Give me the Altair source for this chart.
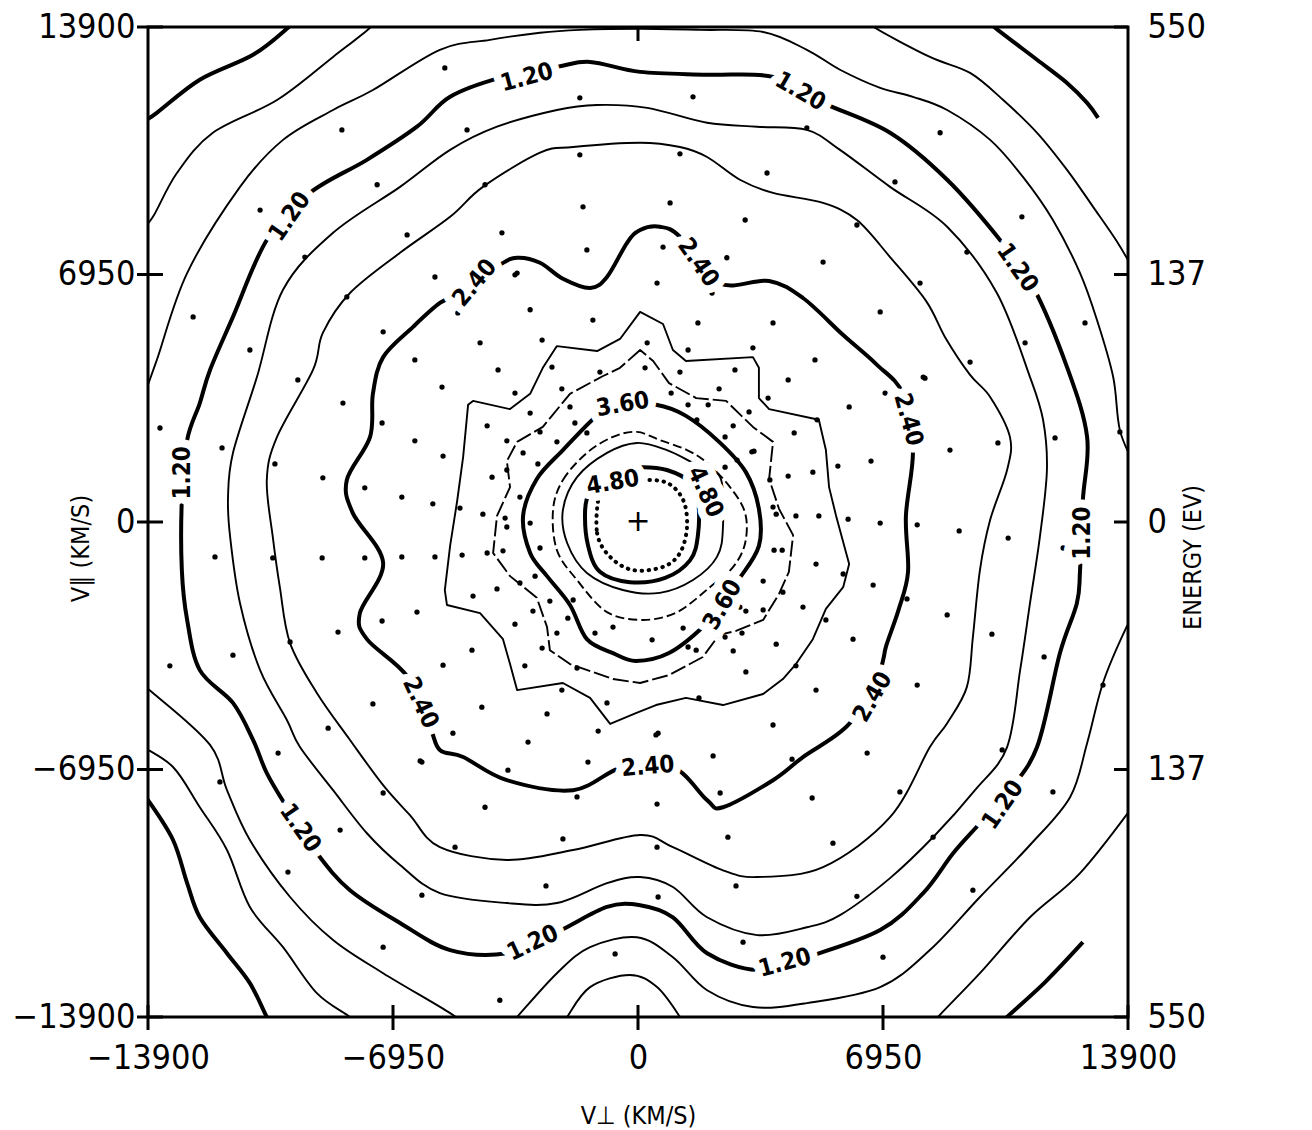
import altair as alt
import pandas as pd

# ---------------- axis values ----------------
TICKS = [-13900, -6950, 0, 6950, 13900]
ENERGY_LABELS = ["550", "137", "0", "137", "550"]
TOP_TICK = [0]
CENTER_X = [0.0]
CENTER_Y = [0.0]

# ---------------- contour pieces (thousands of km/s) ----------------
# level 0.0 (corner pieces)
L00_TL_X = [-9.75, -9.93, -10.92, -12.43, -13.65, -14.1]
L00_TL_Y = [14.1, 13.88, 13.12, 12.42, 11.49, 11.2]
L00_TR_X = [9.95, 10.13, 11.32, 12.17, 12.74, 13.05]
L00_TR_Y = [14.1, 13.88, 12.98, 12.33, 11.77, 11.35]
L00_BL_X = [-14.1, -13.90, -13.19, -12.79, -12.43, -11.66, -11.01, -10.53, -10.4]
L00_BL_Y = [-7.6, -7.81, -8.93, -10.14, -11.10, -12.11, -12.95, -13.90, -14.1]
L00_BR_X = [12.62, 11.55, 10.47, 10.3]
L00_BR_Y = [-11.80, -12.92, -13.90, -14.1]

# level 0.4
L04_TL_X = [-7.5, -7.60, -8.65, -10.24, -12.06, -13.08, -13.76, -14.1]
L04_TL_Y = [14.1, 13.88, 13.06, 11.85, 10.93, 9.80, 8.57, 8.2]
L04_TR_X = [6.6, 6.72, 8.28, 9.42, 10.36, 11.32, 12.17, 12.91, 13.59, 14.1]
L04_TR_Y = [14.1, 13.88, 13.06, 12.61, 11.85, 10.93, 9.89, 8.85, 7.87, 7.0]
L04_BR_X = [14.1, 12.54, 11.12, 9.70, 8.51, 8.4]
L04_BR_Y = [-7.9, -9.86, -11.10, -12.67, -13.90, -14.1]
L04_BC_X = [-2.1, -2.01, -1.36, -0.23, 0.54, 1.19, 1.25]
L04_BC_Y = [-14.1, -13.90, -13.06, -12.72, -13.06, -13.90, -14.1]
L04_BL_X = [-14.1, -13.19, -12.43, -11.66, -11.01, -10.07, -9.11, -8.17, -8.0]
L04_BL_Y = [-6.3, -6.88, -8.01, -9.21, -10.81, -11.94, -13.23, -13.90, -14.1]

# level 0.8
L08_T_X = [-14.1, -13.65, -12.79, -11.29, -10.07, -8.65, -7.52, -5.62, -4.20, -2.78, -1.65, 0.06,
           1.76, 3.55, 4.79, 5.73, 6.87, 7.80, 8.77, 9.99, 10.92, 11.77, 12.54, 13.02, 13.48, 13.67, 14.1]
L08_T_Y = [3.3, 4.55, 6.99, 9.41, 10.73, 11.57, 12.13, 13.26, 13.54, 13.74, 13.82, 13.85,
           13.82, 13.76, 13.26, 12.70, 12.19, 11.94, 11.57, 10.73, 9.69, 8.48, 6.99, 5.67, 4.07, 2.58, 1.6]
L08_B_X = [14.1, 13.82, 13.19, 12.74, 12.26, 11.12, 9.70, 8.28, 6.87, 4.79, 3.26, 1.96, 0.99,
           -0.03, -1.36, -2.30, -3.43, -3.6]
L08_B_Y = [-2.6, -3.03, -4.52, -6.21, -7.72, -9.07, -10.53, -12.02, -13.06, -13.51, -13.62, -13.15,
           -12.22, -11.66, -11.94, -12.67, -13.90, -14.1]
L08_BL_X = [-14.1, -13.76, -12.14, -11.66, -11.01, -9.87, -8.65, -7.23, -5.33, -5.0]
L08_BL_Y = [-4.6, -4.80, -6.26, -7.53, -8.93, -10.53, -11.74, -12.67, -13.79, -14.1]

# level 1.2 (closed)
L12_X = [-5.33, -3.92, -2.30, -1.36, 0.06, 1.96, 3.83, 5.25, 7.15, 8.77, 10.27, 11.21, 12.17, 12.74,
         12.62, 12.54, 12.45, 11.97, 11.32, 10.47, 9.70, 8.94, 8.09, 6.87, 4.79, 3.38, 1.96, 0.99,
         0.06, -0.88, -2.30, -3.72, -5.33, -6.75, -8.17, -9.11, -9.96, -10.53, -10.92, -11.49,
         -12.43, -12.79, -12.94, -12.94, -12.79, -12.43, -12.14, -11.49, -10.53, -9.31, -7.69, -6.27]
L12_Y = [11.94, 12.47, 12.78, 12.92, 12.64, 12.56, 12.50, 11.77, 10.93, 9.61, 7.92, 6.60, 4.35, 2.39,
         0.62, -1.35, -2.28, -3.68, -6.32, -7.61, -8.46, -9.30, -10.42, -11.46, -12.22, -12.58,
         -12.11, -11.10, -10.76, -10.81, -11.52, -12.11, -12.02, -11.26, -10.34, -9.30, -8.01,
         -7.05, -6.12, -5.08, -4.16, -2.75, -1.35, 0.62, 2.30, 3.34, 4.27, 5.76, 7.92, 9.24, 10.17, 11.10]

# level 1.6 (closed)
L16_X = [-5.33, -4.00, -2.30, -1.16, 0.26, 1.96, 3.38, 4.79, 5.73, 7.15, 8.77, 10.18, 11.12, 11.49,
         11.60, 11.40, 11.12, 10.84, 10.47, 9.56, 8.43, 7.15, 5.73, 4.79, 3.38, 1.96, 0.99, 0.06,
         -0.88, -2.30, -3.72, -5.62, -6.75, -7.69, -8.65, -9.59, -9.96, -10.72, -11.29, -11.57,
         -11.63, -11.49, -10.81, -10.07, -8.65, -6.75]
L16_Y = [10.45, 11.10, 11.57, 11.71, 11.63, 11.21, 11.10, 11.01, 10.45, 9.41, 8.29, 6.43, 4.07, 2.87,
         1.46, -0.42, -2.28, -4.16, -6.32, -7.53, -8.79, -10.00, -11.04, -11.38, -11.60, -11.10,
         -10.25, -9.97, -10.14, -10.70, -10.70, -10.42, -9.63, -8.74, -7.53, -6.32, -5.56, -4.16,
         -2.28, -0.42, 0.70, 1.94, 4.07, 6.52, 8.12, 9.41]

# level 2.0 (closed)
L20_X = [-5.33, -4.40, -2.78, -1.84, 0.06, 1.19, 1.96, 2.89, 3.83, 5.25, 6.21, 7.15, 8.17, 8.74,
         9.42, 9.99, 10.55, 10.47, 9.99, 9.70, 9.50, 9.33, 8.77, 8.28, 7.15, 5.25, 3.38, 2.41, 0.99,
         0.06, -1.84, -3.72, -5.62, -6.47, -7.23, -8.17, -9.11, -9.87, -10.16, -10.36, -10.53,
         -10.24, -9.22, -8.94, -8.17, -6.75]
L20_Y = [8.57, 9.41, 10.37, 10.53, 10.65, 10.53, 10.25, 9.61, 9.24, 8.96, 8.48, 7.44, 6.21, 5.14,
         4.13, 3.51, 2.39, 1.46, 0.06, -1.35, -3.23, -4.63, -5.65, -6.32, -8.29, -9.69, -9.97,
         -9.78, -9.13, -8.79, -9.21, -9.49, -9.13, -8.23, -7.39, -6.12, -4.80, -3.40, -1.83,
         -0.42, 1.18, 2.39, 4.27, 5.31, 6.43, 7.56]

# level 2.4 (closed)
L24_X = [-5.62, -5.05, -3.92, -3.43, -2.78, -2.13, -1.36, -0.88, -0.31, 0.06, 0.62, 1.19, 2.30,
         3.72, 4.68, 5.82, 6.75, 7.52, 7.80, 7.60, 7.66, 7.40, 7.04, 6.84, 5.99, 4.68, 3.83, 2.41,
         1.96, 0.99, -0.43, -1.84, -3.72, -4.96, -5.62, -5.90, -6.55, -7.69, -7.89, -7.23, -8.09,
         -8.26, -7.60, -7.52, -7.23, -6.38]
L24_Y = [6.15, 6.43, 7.22, 7.42, 7.28, 6.83, 6.57, 6.88, 7.84, 8.20, 8.29, 8.01, 6.71, 6.77, 6.29,
         5.25, 4.44, 3.60, 2.02, 0.17, -1.40, -2.44, -3.48, -4.21, -5.67, -6.60, -7.25, -8.01,
         -7.81, -6.88, -6.88, -7.53, -7.25, -6.60, -6.40, -5.76, -4.33, -3.29, -2.56, -1.15, 0.25,
         1.18, 2.39, 3.60, 4.63, 5.48]

# level 2.8 (closed, jagged)
L28_X = [-4.68, -3.63, -3.06, -2.70, -2.30, -1.16, -0.51, 0.06, 0.71, 0.99, 1.36, 3.26, 3.43, 3.43,
         3.72, 5.13, 5.33, 5.42, 5.62, 5.99, 5.82, 5.33, 4.96, 4.48, 4.11, 3.55, 2.41, 1.36, 0.51,
         -0.06, -0.79, -1.36, -2.13, -3.43, -3.63, -3.83, -4.48, -5.42, -5.48, -5.33, -5.13, -4.96, -4.82]
L28_Y = [3.40, 3.17, 3.60, 4.33, 4.94, 4.80, 5.14, 5.90, 5.56, 4.83, 4.52, 4.63, 4.33, 3.48, 3.17,
         2.87, 2.02, 0.98, 0.17, -1.18, -1.83, -2.44, -3.29, -3.99, -4.41, -4.83, -5.14, -4.94,
         -5.14, -5.37, -5.67, -4.94, -4.52, -4.72, -3.99, -3.29, -2.56, -2.33, -1.91, -0.67, 0.59, 1.83, 3.29]

# level 3.2 (closed, jagged)
L32_X = [0.06, -0.51, -0.99, -1.93, -2.70, -3.43, -3.72, -3.63, -4.00, -4.11, -3.63, -2.87, -2.58,
         -2.50, -1.93, -0.71, 0.06, 0.88, 1.84, 2.30, 2.78, 3.55, 4.00, 4.28, 4.40, 4.00, 3.72, 3.83,
         3.26, 2.50, 1.65, 0.88, 0.43]
L32_Y = [4.83, 4.33, 4.10, 3.60, 2.67, 2.25, 1.71, 0.98, 0.17, -0.87, -1.52, -2.13, -2.95, -3.60,
         -3.99, -4.41, -4.52, -4.30, -3.79, -3.17, -3.06, -2.75, -2.02, -1.40, -0.37, 0.37, 1.21,
         2.25, 2.67, 3.40, 3.48, 3.90, 4.52]

# level 3.6 (closed)
L36_X = [-0.43, 0.51, 1.36, 2.30, 3.06, 3.43, 3.43, 2.87, 2.33, 1.84, 0.88, -0.06, -0.71, -1.45,
         -1.93, -2.58, -3.06, -3.26, -2.87, -2.13, -1.08]
L36_Y = [3.29, 3.29, 2.98, 2.25, 1.40, 0.37, -0.67, -1.60, -2.33, -2.95, -3.68, -3.90, -3.68, -3.29,
         -2.33, -1.52, -0.87, 0.17, 1.21, 2.02, 3.06]

# level 4.0
L40_X = [-2.41, -2.13, -1.45, -0.71, -0.03, 0.62, 1.39, 1.96, 2.61, 3.04, 3.04, 2.70, 2.04, 1.11,
         0.14, -0.88, -1.73, -2.30]
L40_Y = [0.34, 1.18, 1.94, 2.39, 2.53, 2.30, 2.02, 1.66, 0.98, 0.25, -0.59, -1.26, -1.83, -2.53,
         -2.75, -2.53, -1.63, -0.79]

# level 4.4
L44_X = [-2.13, -1.73, -0.88, -0.03, 0.82, 1.56, 2.33, 2.41, 2.24, 1.56, 0.62, -0.43, -1.45, -2.01]
L44_Y = [0.34, 1.26, 1.94, 2.22, 2.02, 1.66, 1.26, -0.14, -0.98, -1.63, -1.99, -1.91, -1.43, -0.59]

# level 4.8
L48_X = [-1.50, -1.36, -1.08, -0.51, 0.14, 0.82, 1.48, 1.70, 1.70, 1.48, 0.77, -0.23, -1.08, -1.42]
L48_Y = [0.34, 0.90, 1.24, 1.46, 1.54, 1.46, 1.12, 0.62, -0.37, -1.07, -1.57, -1.69, -1.40, -0.65]

# level 5.2 (dotted)
L52_X = [-1.08, -1.16, -0.79, -0.14, 0.71, 1.19, 1.39, 1.28, 0.82, 0.06, -0.65]
L52_Y = [0.81, -0.31, -0.98, -1.35, -1.26, -0.87, -0.14, 0.62, 1.10, 1.18, 1.10]

# ---------------- contour labels ----------------
LAB_TEXT = ["1.20"] * 10 + ["2.40"] * 6 + ["3.60"] * 2 + ["4.80"] * 2
LAB_X = [-3.15, 4.60, 10.75, 12.62, 10.36, 4.17, -2.98, -9.59, -12.91, -9.87,
         -4.62, 1.70, 7.66, 6.67, 0.28, -6.18, -0.43, 2.41, -0.71, 1.90]
LAB_Y = [12.47, 12.08, 7.13, -0.31, -7.95, -12.39, -11.83, -8.60, 1.38, 8.57,
         6.71, 7.28, 2.87, -4.92, -6.88, -5.08, 3.29, -2.33, 1.10, 0.84]
LAB_ANGLE = [-15, 30, 55, -90, -55, -15, -25, 55, -90, -55,
             -50, 55, 75, -60, -5, 65, -10, -60, -10, 65]

# ---------------- measurement points (thousands of km/s) ----------------
DOT_X = [-5.48, -8.40, -7.40, -10.72, -6.55, -9.45, -5.76, -8.26, -12.62, -7.23, -11.01, -6.33,
         -1.65, 1.56, -4.85, 4.79, -1.65, 1.19, 3.66, -4.34, -1.56, 0.91, 3.04, 6.21, -3.86, -1.45,
         0.71, 2.52, 5.25, -3.43, 0.54, 2.10, -5.11, -3.06, -1.28, 1.70, 3.83, 6.87, -4.48, -2.72,
         0.26, 1.42, 3.26, 5.02, -3.97, -2.44, -1.08, 0.20, 1.19, 2.75,
         8.57, 7.29, 10.89, 9.33, 8.00, 12.68, 10.98, 9.42, 8.09,
         -5.56, -8.37, -9.65, -13.56, -11.80, -7.26, -6.33, -5.53, -10.30, -8.94, -7.75, -6.70,
         -5.82, -12.00, -10.36, -8.96, -7.75, -6.70, -5.76, -6.27, -7.26, -8.51, -11.49, -5.53,
         -13.28, -9.87, -7.52, -8.79,
         8.14, 7.01, 11.83, 10.21, 8.85, 13.67, 6.87, 7.92, 9.11, 10.50, 12.06, 7.63, 8.77, 10.04,
         11.52, 7.92, 13.19,
         -10.21, -11.86, -6.13, -7.23, -8.45, -9.93, -6.13, -7.23,
         -3.69, -1.42, 2.13, 4.37, 6.50, -4.34, -1.73, 0.54, 2.33, 4.94, -5.19, -2.13, 0.54, 2.55,
         5.53, -2.61, 0.57, 2.78, 6.21, -0.65, 2.98, 6.95, -3.92,
         10.33, 7.43, 11.77, 8.37, 9.50,
         -3.49, -3.49, -1.93, -2.16, -3.06, -4.28, -3.72, -2.30, -3.26, -2.84, -4.14, -4.40, -3.77,
         -4.99, -4.28, -2.78, -3.83, -2.92, -4.00, -4.68, -2.98, -2.50, -2.30, -3.49, -4.71, -1.73,
         -2.72, -3.21, -2.16, -4.43, -0.88, -2.58, -5.25, -3.12, -1.13, -6.18,
         4.26, 3.69, 2.30, 0.94, 5.99, 3.15, 1.99, 2.70, 4.43, 5.67, 6.61, 4.96, 4.26, 3.29, 3.92,
         4.48, 5.13, 5.96, 3.86, 5.05, 5.82, 6.67, 3.55, 4.11, 4.68, 3.06, 5.33, 6.10, 3.92, 2.70,
         1.65, 4.48, 3.06, 1.73, 5.05, 0.51,
         5.08, 3.83, 0.57, -5.05, -0.99, -2.78, -1.79, -1.45, 0.06, 1.42, 1.67, 2.47, 2.81, 2.47,
         3.23, 3.74, 3.83, 4.09, 3.55, 2.89, 2.95, 2.47, 1.28, 1.42, 0.40, -0.71, -1.22, -1.99,
         -1.84, -3.35, -3.72, -3.06, -3.35, -3.72]
DOT_Y = [12.75, 11.01, 9.47, 8.76, 8.06, 7.44, 6.88, 6.32, 5.76, 5.34, 4.83, 4.55,
         11.91, 11.94, 11.01, 11.07, 10.31, 10.34, 9.80, 9.47, 8.85, 8.96, 8.48, 8.34, 8.12, 7.64,
         7.72, 7.42, 7.30, 6.99, 6.71, 6.43, 5.87, 5.96, 5.67, 5.59, 5.59, 5.90, 5.03, 5.11, 5.03,
         4.83, 4.89, 4.55, 4.27, 4.35, 4.21, 4.33, 4.21, 4.27,
         10.93, 9.55, 8.57, 7.58, 6.71, 5.59, 5.03, 4.49, 4.07,
         3.79, 3.34, 3.99, 2.64, 2.08, 2.78, 2.28, 1.85, 1.63, 1.24, 0.96, 0.70, 0.51, -0.98, -1.01,
         -1.01, -1.01, -0.98, -0.98, -2.53, -2.78, -3.09, -3.74, -4.02, -4.04, -3.37, -5.11, -5.79,
         4.04, 3.62, 2.36, 2.22, 2.02, 2.53, -0.03, -0.08, -0.25, -0.45, -0.73, -2.16, -2.61, -3.15,
         -3.79, -4.58, -4.58,
         -6.49, -7.30, -6.74, -7.61, -8.65, -9.83, -10.48, -11.94,
         -6.97, -6.74, -6.57, -6.66, -6.49, -8.01, -7.72, -7.92, -7.61, -7.75, -9.13, -8.90, -9.13,
         -8.85, -9.02, -10.22, -10.53, -10.22, -10.51, -12.13, -11.80, -12.22, -13.43,
         -6.40, -7.58, -7.58, -8.85, -10.34,
         6.94, 3.62, 3.23, 3.74, 3.06, 2.70, 2.28, 2.25, 1.94, 1.63, 1.26, 0.22, 0.11, -0.93, -0.87,
         -0.73, -0.81, -1.52, -1.88, -2.08, -2.50, -2.22, -3.12, -2.87, -3.60, -4.10, -3.54, -4.04,
         -4.72, -5.20, -5.08, -5.39, -5.93, -6.18, -5.87, -6.71,
         3.99, 3.48, 3.74, 3.62, 3.23, 3.09, 3.29, 2.70, 2.50, 1.57, 1.71, 1.40, 1.29, 1.99, 0.22,
         0.17, 0.17, 0.08, -0.79, -1.18, -1.46, -1.77, -1.66, -1.97, -2.39, -2.50, -2.75, -3.29,
         -3.43, -3.62, -3.60, -4.04, -4.21, -4.94, -4.72, -5.98,
         2.87, -5.70, -5.93, 0.39, 3.57, 2.53, 2.78, 2.50, 3.23, 3.29, 2.87, 2.39, 1.74, 1.54, 1.97,
         1.18, 0.42, -0.79, -2.47, -2.39, -3.12, -3.23, -2.98, -3.51, -3.31, -2.95, -3.12, -2.70,
         -2.19, -1.71, -0.14, -0.03, 0.70, 1.46]

# ---------------- build tables ----------------
K = 1000.0
FONT = "DejaVu Sans Condensed, Liberation Sans Narrow, DejaVu Sans, sans-serif"
XS = alt.Scale(domain=[TICKS[0], TICKS[-1]], nice=False, zero=False)
YS = alt.Scale(domain=[TICKS[0], TICKS[-1]], nice=False, zero=False)

X_AXIS = alt.Axis(values=TICKS, format="d", ticks=False, domain=False, grid=False,
                  labelFont=FONT, labelFontSize=34, labelColor="black", labelPadding=24,
                  labelFlush=False, labelOverlap=False,
                  title="V⊥ (KM/S)", titleFont=FONT, titleFontSize=25, titleFontWeight="normal",
                  titleColor="black", titleY=106, titleBaseline="alphabetic")
Y_AXIS = alt.Axis(values=TICKS, format="d", ticks=False, domain=False, grid=False,
                  labelFont=FONT, labelFontSize=34, labelColor="black", labelPadding=13,
                  labelFlush=False, labelOverlap=False,
                  title="V∥ (KM/S)", titleFont=FONT, titleFontSize=25, titleFontWeight="normal",
                  titleColor="black", titleAngle=270, titleX=-68, titleY=521,
                  titleBaseline="middle")


def enc_xy(xf="vx", yf="vy"):
    return dict(x=alt.X(f"{xf}:Q", scale=XS, axis=X_AXIS),
                y=alt.Y(f"{yf}:Q", scale=YS, axis=Y_AXIS))


def piece_df(pieces):
    rows = []
    for pid, (xs, ys) in enumerate(pieces):
        for i, (x, y) in enumerate(zip(xs, ys)):
            rows.append({"piece": pid, "i": i, "vx": x * K, "vy": y * K})
    return pd.DataFrame(rows)


def line_layer(pieces, interp, width, dash=None, cap="butt"):
    props = dict(interpolate=interp, clip=True, color="black", strokeWidth=width,
                 strokeCap=cap, strokeJoin="round")
    if dash is not None:
        props["strokeDash"] = dash
    return alt.Chart(piece_df(pieces)).mark_line(**props).encode(
        detail="piece:N", order="i:Q", **enc_xy())


layers = [
    line_layer([(L00_TL_X, L00_TL_Y), (L00_TR_X, L00_TR_Y), (L00_BL_X, L00_BL_Y),
                (L00_BR_X, L00_BR_Y)], "cardinal", 4),
    line_layer([(L04_TL_X, L04_TL_Y), (L04_TR_X, L04_TR_Y), (L04_BR_X, L04_BR_Y),
                (L04_BC_X, L04_BC_Y), (L04_BL_X, L04_BL_Y),
                (L08_T_X, L08_T_Y), (L08_B_X, L08_B_Y), (L08_BL_X, L08_BL_Y)], "cardinal", 1.9),
    line_layer([(L12_X, L12_Y), (L24_X, L24_Y), (L36_X, L36_Y), (L48_X, L48_Y)],
               "cardinal-closed", 4),
    line_layer([(L16_X, L16_Y), (L20_X, L20_Y), (L44_X, L44_Y)], "cardinal-closed", 1.9),
    line_layer([(L28_X, L28_Y)], "linear-closed", 1.9),
    line_layer([(L32_X, L32_Y)], "linear-closed", 1.9, dash=[16, 4]),
    line_layer([(L40_X, L40_Y)], "cardinal-closed", 1.9, dash=[9, 4]),
    line_layer([(L52_X, L52_Y)], "cardinal-closed", 4, dash=[0.5, 6.5], cap="round"),
]

dots = pd.DataFrame({"vx": [v * K for v in DOT_X], "vy": [v * K for v in DOT_Y]})
layers.append(alt.Chart(dots).mark_circle(size=28, color="black", opacity=1).encode(**enc_xy()))

labels = pd.DataFrame({"vx": [v * K for v in LAB_X], "vy": [v * K for v in LAB_Y],
                       "txt": LAB_TEXT, "ang": [a % 360 for a in LAB_ANGLE]})
lab_common = dict(font=FONT, fontSize=24, fontWeight="bold", align="center", baseline="middle")
layers.append(alt.Chart(labels).mark_text(color="white", stroke="white", strokeWidth=16,
                                          strokeJoin="round", **lab_common).encode(
    text="txt:N", angle=alt.Angle("ang:Q", scale=None), **enc_xy()))
layers.append(alt.Chart(labels).mark_text(color="black", **lab_common).encode(
    text="txt:N", angle=alt.Angle("ang:Q", scale=None), **enc_xy()))

center = pd.DataFrame({"vx": CENTER_X, "vy": CENTER_Y})
layers.append(alt.Chart(center).mark_text(text="+", fontSize=30, font="DejaVu Sans",
                                          color="black", baseline="middle", align="center")
              .encode(**enc_xy()))

# tick marks (crossing the frame on left/bottom, inward on right/top)
tick_df = pd.DataFrame({"v": TICKS})
layers.append(alt.Chart(tick_df).mark_rule(color="black", strokeWidth=3).encode(
    y=alt.Y("v:Q", scale=YS, axis=Y_AXIS), x=alt.value(-11), x2=alt.value(15)))
layers.append(alt.Chart(tick_df).mark_rule(color="black", strokeWidth=3).encode(
    x=alt.X("v:Q", scale=XS, axis=X_AXIS), y=alt.value(978), y2=alt.value(1003)))
top_df = pd.DataFrame({"v": TOP_TICK})
layers.append(alt.Chart(top_df).mark_rule(color="black", strokeWidth=3).encode(
    x=alt.X("v:Q", scale=XS, axis=X_AXIS), y=alt.value(0), y2=alt.value(14)))

main = alt.layer(*layers)

# right-hand energy axis
label_expr = ""
for v, lab in zip(TICKS, ENERGY_LABELS):
    label_expr += f"datum.value == {v} ? '{lab}' : "
label_expr += "''"
R_AXIS = alt.Axis(orient="right", values=TICKS, labelExpr=label_expr, ticks=False, domain=False,
                  grid=False, labelFont=FONT, labelFontSize=34, labelColor="black",
                  labelPadding=19, labelFlush=False, labelOverlap=False,
                  title="ENERGY (EV)", titleFont=FONT, titleFontSize=25, titleFontWeight="normal",
                  titleColor="black", titleAngle=270, titleX=64, titleY=530,
                  titleBaseline="middle")
right = alt.Chart(tick_df).mark_rule(color="black", strokeWidth=3).encode(
    y=alt.Y("v:Q", scale=YS, axis=R_AXIS), x=alt.value(966), x2=alt.value(980))

chart = alt.layer(main, right).resolve_scale(y="independent").properties(
    width=980, height=990,
    autosize=alt.AutoSizeParams(type="none"),
    padding={"left": 148, "top": 27, "right": 184, "bottom": 113},
    background="white",
).configure_view(stroke="black", strokeWidth=3)

chart.save("out.html", embed_options={"renderer": "svg", "actions": False})
